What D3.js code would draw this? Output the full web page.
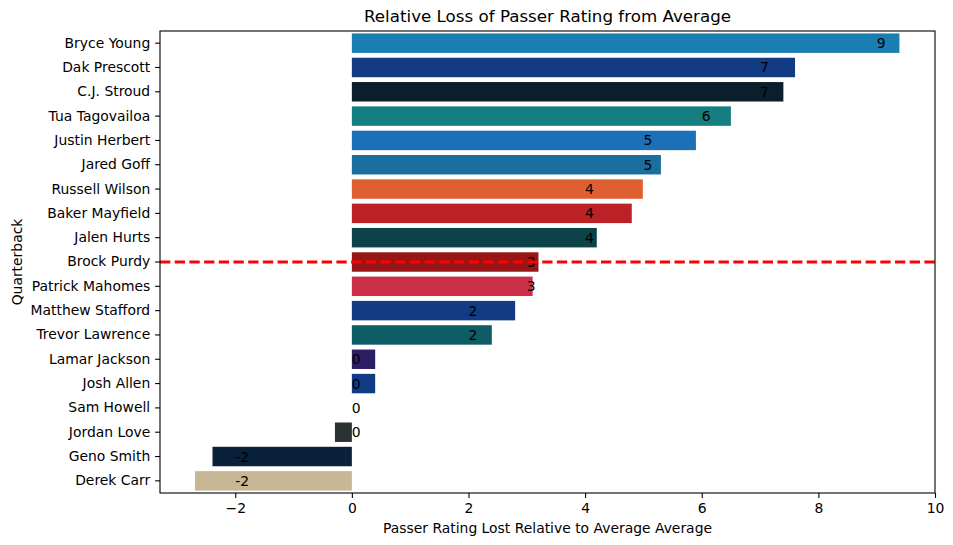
<!DOCTYPE html>
<html>
<head>
<meta charset="utf-8">
<script src="https://cdn.jsdelivr.net/npm/d3@7"></script>
<style>
  body { margin: 0; background: #fff; }
  text { font-family: "DejaVu Sans", sans-serif; fill: #000; }
</style>
</head>
<body>
<svg id="chart" width="953" height="545"></svg>
<script>
// quarterbacks, top to bottom
const players = ["Bryce Young", "Dak Prescott", "C.J. Stroud", "Tua Tagovailoa", "Justin Herbert",
  "Jared Goff", "Russell Wilson", "Baker Mayfield", "Jalen Hurts", "Brock Purdy", "Patrick Mahomes",
  "Matthew Stafford", "Trevor Lawrence", "Lamar Jackson", "Josh Allen", "Sam Howell", "Jordan Love",
  "Geno Smith", "Derek Carr"]
const ratingLost = [9.39, 7.6, 7.4, 6.5, 5.9, 5.3, 4.99, 4.8, 4.2, 3.2, 3.1,
  2.8, 2.4, 0.4, 0.4, 0, -0.29, -2.39, -2.69]
const teamColors = ["#1b7eb3", "#133b82", "#0b1e2c", "#157e80", "#1b70b7", "#1a6f9e", "#df5f32",
  "#bc2225", "#0c4349", "#971515", "#cb2f48", "#133a84", "#0e5c66", "#2c1e63", "#123b85",
  "#7a2130", "#2a3331", "#0a213a", "#c8b794"]
const xTicks = [-2, 0, 2, 4, 6, 8, 10]
const lineAt = "Brock Purdy"

const margin = { top: 31, right: 18, bottom: 52, left: 160 },
  width = 953 - margin.left - margin.right,
  height = 545 - margin.top - margin.bottom

const svg = d3.select("#chart")
const g = svg.append("g")
  .attr("transform", `translate(${margin.left},${margin.top})`)

const x = d3.scaleLinear()
  .domain([-3.29, 10.0])
  .range([0, width])

const y = d3.scaleBand()
  .domain(players)
  .range([0, height])
  .paddingInner(0.2)
  .paddingOuter(0.1)

// bars
g.selectAll(".bar")
  .data(players)
  .enter()
  .append("rect")
  .attr("class", "bar")
  .attr("x", (d, i) => x(Math.min(0, ratingLost[i])))
  .attr("y", d => y(d))
  .attr("width", (d, i) => Math.abs(x(ratingLost[i]) - x(0)))
  .attr("height", y.bandwidth())
  .style("fill", (d, i) => teamColors[i])

// value labels, truncated like int()
g.selectAll(".lbl")
  .data(players)
  .enter()
  .append("text")
  .attr("class", "lbl")
  .attr("x", (d, i) => x(Math.trunc(ratingLost[i])))
  .attr("y", d => y(d) + y.bandwidth() / 2)
  .attr("dy", "0.36em")
  .style("font-size", "13.9px")
  .text((d, i) => Math.trunc(ratingLost[i]) === 0 ? "0" : Math.trunc(ratingLost[i]))

// dashed line
g.append("line")
  .attr("x1", 0)
  .attr("x2", width)
  .attr("y1", y(lineAt) + y.bandwidth() / 2)
  .attr("y2", y(lineAt) + y.bandwidth() / 2)
  .style("stroke", "red")
  .style("stroke-width", 2.8)
  .style("stroke-dasharray", "10.3,4.4")

// axes
const xAxis = g.append("g")
  .attr("transform", `translate(0,${height})`)
  .call(d3.axisBottom(x).tickValues(xTicks).tickSize(4.9).tickPadding(4.9)
    .tickFormat(d => d < 0 ? "\u2212" + Math.abs(d) : d))
const yAxis = g.append("g")
  .call(d3.axisLeft(y).tickSize(4.9).tickPadding(4.9))

;[xAxis, yAxis].forEach(a => {
  a.select(".domain").remove()
  a.selectAll("line").style("stroke", "#000").style("stroke-width", 1.1)
  a.selectAll("text").style("font-size", "13.9px").style("font-family", "DejaVu Sans")
})

// frame
g.append("rect")
  .attr("width", width)
  .attr("height", height)
  .style("fill", "none")
  .style("stroke", "#000")
  .style("stroke-width", 1.1)

// titles
svg.append("text")
  .attr("x", margin.left + width / 2)
  .attr("y", 22)
  .attr("text-anchor", "middle")
  .style("font-size", "16.7px")
  .text("Relative Loss of Passer Rating from Average")

svg.append("text")
  .attr("x", margin.left + width / 2)
  .attr("y", 533)
  .attr("text-anchor", "middle")
  .style("font-size", "13.9px")
  .text("Passer Rating Lost Relative to Average Average")

svg.append("text")
  .attr("transform", `translate(22,${margin.top + height / 2}) rotate(-90)`)
  .attr("text-anchor", "middle")
  .style("font-size", "13.9px")
  .text("Quarterback")
</script>
</body>
</html>
